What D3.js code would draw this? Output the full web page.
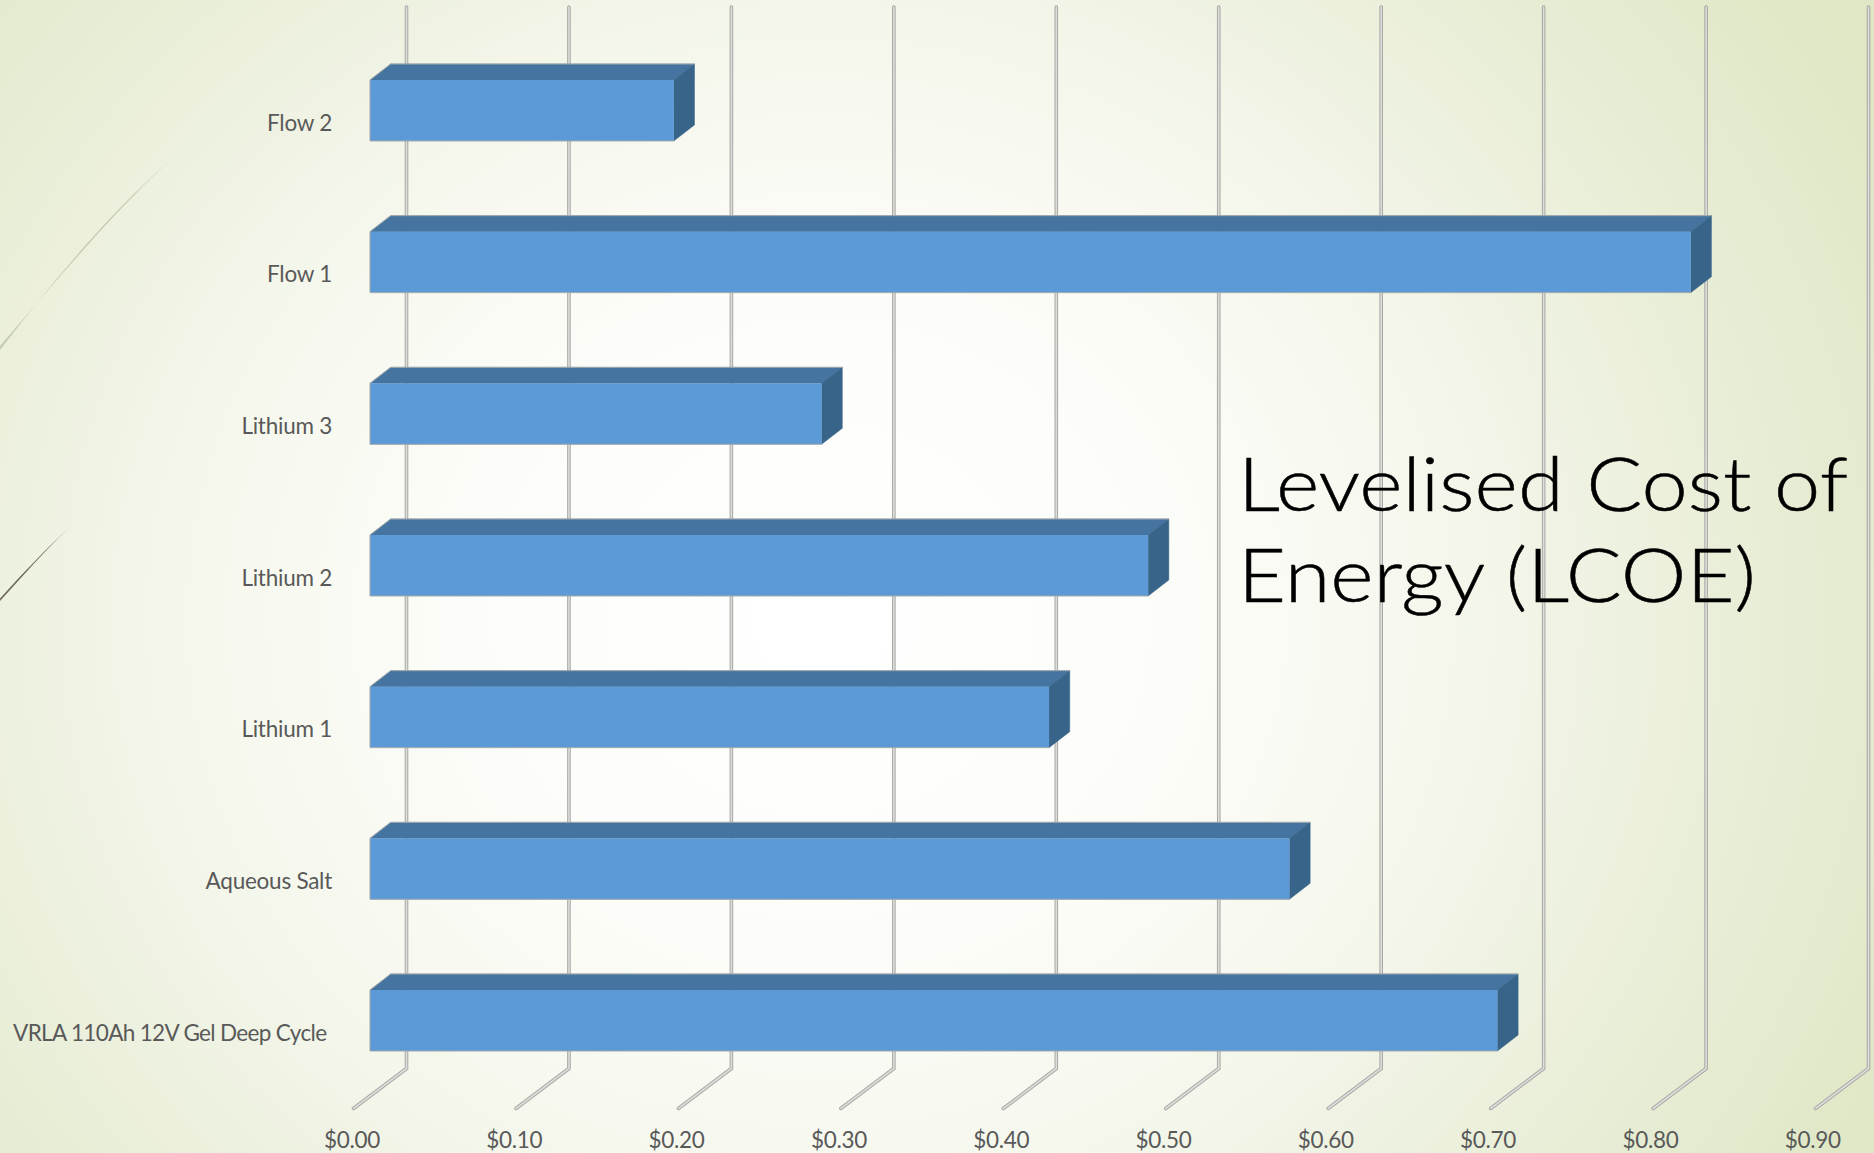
<!DOCTYPE html>
<html>
<head>
<meta charset="utf-8">
<script src="https://cdnjs.cloudflare.com/ajax/libs/d3/7.8.5/d3.min.js"></script>
<style>
  html, body { margin: 0; padding: 0; background: #fff; overflow: hidden; }
  svg { display: block; }
  .cat text, .val text { font-family: Lato, sans-serif; fill: #595959; }
</style>
</head>
<body>
<svg id="chart" width="1874" height="1153"></svg>
<script>
// Levelised cost per technology, in dollars
const categories = ["Flow 2", "Flow 1", "Lithium 3", "Lithium 2", "Lithium 1", "Aqueous Salt", "VRLA 110Ah 12V Gel Deep Cycle"];
const lcoe = [0.187, 0.813, 0.278, 0.479, 0.418, 0.566, 0.694];
const axisTicks = [0, 0.1, 0.2, 0.3, 0.4, 0.5, 0.6, 0.7, 0.8, 0.9];
const titleLines = ["Levelised Cost of", "Energy (LCOE)"];
const titleWidths = [610, 518];

const svg = d3.select("#chart");
const W = 1874, H = 1153;

// Oblique projection of the 3D chart
const barDepth = { dx: 20.7, dy: -16 };
const wallBack = { dx: 36.5 };
const floorDrop = 40;
const floorDx = 53;

const x = d3.scaleLinear().domain([0, 0.9]).range([370, 370 + 9 * 162.45]);
const y = d3.scaleBand().domain(categories).range([80, 1051]).paddingInner(0.598).paddingOuter(0);

// Slide background
const defs = svg.append("defs");
const bg = defs.append("radialGradient")
  .attr("id", "slideBg")
  .attr("gradientUnits", "userSpaceOnUse")
  .attr("cx", 0).attr("cy", 0).attr("r", 1)
  .attr("gradientTransform", "translate(820 620) scale(1200 1100)");
[[0, "#ffffff"], [0.24, "#fdfefb"], [0.47, "#f7f9f0"], [0.68, "#edf1df"], [0.9, "#e3eacd"], [1, "#dfe7c5"]]
  .forEach(([o, c]) => bg.append("stop").attr("offset", o).attr("stop-color", c));
svg.append("rect").attr("width", W).attr("height", H).attr("fill", "url(#slideBg)");

// Decorative hairlines at the left edge
svg.append("path")
  .attr("d", "M0,350 C50,285 105,218 169,161 C106,220 52,286 0,346 Z")
  .attr("fill", "#c6ccb3");
svg.append("path")
  .attr("d", "M0,601 C24,575 46,549 70,527 C47,548 24,572 0,598.5 Z")
  .attr("fill", "#6f6a58");

// Back wall and floor gridlines
const wallTop = 7, wallBottom = 1068.5;
const gridPath = v => {
  const gx = x(v) + wallBack.dx;
  return d3.line()([[gx, wallTop], [gx, wallBottom], [gx - floorDx, wallBottom + floorDrop]]);
};
const grid = svg.append("g").attr("fill", "none").attr("stroke-linecap", "round").attr("stroke-linejoin", "miter");
grid.selectAll(".gridEdge").data(axisTicks).join("path")
  .attr("class", "gridEdge").attr("d", gridPath).attr("stroke", "#a8a8a5").attr("stroke-width", 3.6);
grid.selectAll(".gridCore").data(axisTicks).join("path")
  .attr("class", "gridCore").attr("d", gridPath).attr("stroke", "#dcdcda").attr("stroke-width", 1.6);

// Bars: front, top and end faces
const bars = svg.append("g").selectAll("g").data(categories.map((c, i) => ({ c, v: lcoe[i] }))).join("g");
const poly = pts => d3.line()(pts) + "Z";

bars.append("path").attr("fill", "#44749f").attr("stroke", "#44749f").attr("stroke-width", 0.5)
  .attr("d", d => {
    const x0 = x(0), x1 = x(d.v), t = y(d.c);
    return poly([[x0, t], [x1, t], [x1 + barDepth.dx, t + barDepth.dy], [x0 + barDepth.dx, t + barDepth.dy]]);
  });
bars.append("path").attr("fill", "#386489").attr("stroke", "#386489").attr("stroke-width", 0.5)
  .attr("d", d => {
    const x1 = x(d.v), t = y(d.c), b = t + y.bandwidth();
    return poly([[x1, t], [x1 + barDepth.dx, t + barDepth.dy], [x1 + barDepth.dx, b + barDepth.dy], [x1, b]]);
  });
bars.append("rect").attr("fill", "#5b9ad7")
  .attr("x", x(0)).attr("y", d => y(d.c))
  .attr("width", d => x(d.v) - x(0)).attr("height", y.bandwidth());
// Thin grey outline along the outer silhouette
bars.append("path").attr("fill", "none").attr("stroke", "#a3a9ab").attr("stroke-width", 1)
  .attr("d", d => {
    const x0 = x(0), x1 = x(d.v), t = y(d.c), b = t + y.bandwidth();
    return d3.line()([[x1 + barDepth.dx, t + barDepth.dy], [x0 + barDepth.dx, t + barDepth.dy], [x0, t], [x0, b], [x1, b]]);
  });

// Value axis
const valueAxis = d3.axisBottom(x.copy().range([351.5, 351.5 + 9 * 162.3]))
  .tickValues(axisTicks).tickFormat(d3.format("$.2f")).tickSize(0).tickPadding(0);
const vg = svg.append("g").attr("class", "val").attr("transform", "translate(0,1132)").call(valueAxis);
vg.select(".domain").remove();
vg.selectAll("text").attr("font-size", 22.5).attr("letter-spacing", -0.3);

// Category axis; the long label is tightened and nudged clear of the bar
const categoryAxis = d3.axisLeft(y).tickSize(0).tickPadding(0);
const cg = svg.append("g").attr("class", "cat").attr("transform", "translate(332,0)").call(categoryAxis);
cg.select(".domain").remove();
cg.selectAll("text")
  .attr("font-size", 22.5)
  .attr("letter-spacing", d => d === categories[6] ? -0.65 : -0.25)
  .attr("transform", d => `translate(${d === categories[6] ? -5.5 : 0},13)`);

// Slide title, stretched to the width of the wide display face
const title = svg.append("g").attr("font-family", "Lato, sans-serif").attr("font-weight", 300)
  .attr("fill", "#000").attr("stroke", "#000").attr("stroke-width", 0.5);
title.selectAll("text").data(titleLines).join("text")
  .attr("x", 1238)
  .attr("y", (d, i) => 511 + i * 90.5)
  .attr("font-size", 75)
  .attr("textLength", (d, i) => titleWidths[i])
  .attr("lengthAdjust", "spacingAndGlyphs")
  .text(d => d);
</script>
</body>
</html>
